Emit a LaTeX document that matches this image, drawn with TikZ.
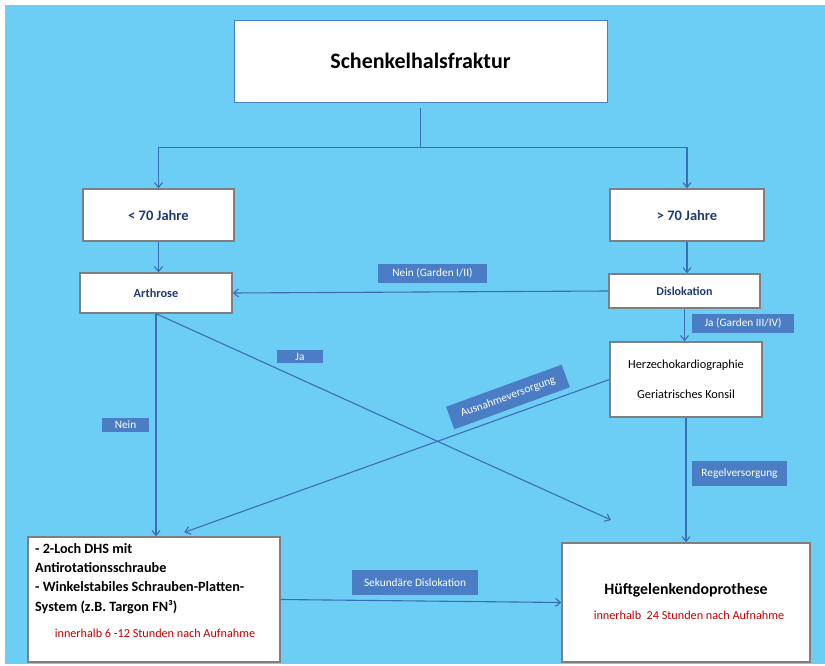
\documentclass[tikz,border=0pt]{standalone}
\usepackage{fontspec}
\setmainfont{Carlito}
\usetikzlibrary{arrows.meta,calc}
\definecolor{bg}{HTML}{6DCEF5}
\definecolor{lab}{HTML}{4A7DC4}
\definecolor{conn}{HTML}{3C6DB4}
\definecolor{dblue}{HTML}{1F3A70}
\definecolor{redtxt}{HTML}{C00000}
\definecolor{bord}{HTML}{7F7F7F}
\tikzset{
  box/.style={draw=bord, line width=1.3pt, fill=white, inner sep=0pt},
  lbl/.style={fill=lab, text=white, inner sep=0pt, font=\fontsize{11.3}{13}\selectfont},
  arr/.style={draw=conn, line width=1.1pt, -{Straight Barb[length=5pt,width=8pt]}},
  ln/.style={draw=conn, line width=1.1pt},
}
\begin{document}
\begin{tikzpicture}[x=1pt,y=-1pt]
\useasboundingbox (0,0) rectangle (825,666);
\fill[white] (0,0) rectangle (825,666);
\fill[bg] (5,5) rectangle (825,664);

% boxes
\node[box, draw=lab, line width=0.8pt, minimum width=373pt, minimum height=82pt, font=\fontsize{22}{26}\selectfont\bfseries] (title) at (420.5,61) {Schenkelhalsfraktur};
\node[box, minimum width=151pt, minimum height=52pt, text=dblue, font=\fontsize{14.5}{17}\selectfont\bfseries] (lt) at (158.5,215) {< 70 Jahre};
\node[box, minimum width=154pt, minimum height=52pt, text=dblue, font=\fontsize{14.5}{17}\selectfont\bfseries] (gt) at (687,215) {> 70 Jahre};
\node[box, minimum width=152pt, minimum height=40pt, text=dblue, font=\fontsize{12.3}{15}\selectfont\bfseries] (arth) at (156,293) {Arthrose};
\node[box, minimum width=151pt, minimum height=34pt, text=dblue, font=\fontsize{12}{15}\selectfont\bfseries] (disl) at (684.5,291) {Dislokation};
\node[box, minimum width=152pt, minimum height=75pt, align=center, font=\fontsize{12.3}{15}\selectfont] (herz) at (686,379.5) {Herzechokardiographie\\[15pt]Geriatrisches Konsil};
\node[box, minimum width=248pt, minimum height=119pt] (hueft) at (686,602.5) {};
\node[font=\fontsize{15.8}{19}\selectfont\bfseries, inner sep=0pt] (hueftt) at (686,590) {Hüftgelenkendoprothese};
\node[font=\fontsize{12.2}{15}\selectfont, text=redtxt, inner sep=0pt] (hueftr) at (689,615) {innerhalb\ \ 24 Stunden nach Aufnahme};
\node[box, minimum width=252pt, minimum height=125pt] (dhs) at (154,599.5) {};
\node[anchor=north west, align=left, inner sep=0pt, font=\fontsize{14.2}{19.4}\selectfont\bfseries] (dhst) at (35,543) {- 2-Loch DHS mit\\Antirotationsschraube\\- Winkelstabiles Schrauben-Platten-\\System (z.B. Targon FN³)};
\node[font=\fontsize{12.2}{15}\selectfont, text=redtxt, inner sep=0pt] (dhsr) at (155,633) {innerhalb 6 -12 Stunden nach Aufnahme};

% connectors
\draw[ln] ($(title.south)+(0,6)$) -- ++(0,39) coordinate (junc);
\draw[ln] (lt.north |- junc) -- (gt.north |- junc);
\draw[arr] (lt.north |- junc) -- (lt.north);
\draw[arr] (gt.north |- junc) -- (gt.north);
\draw[arr] (lt.south) -- (lt.south |- arth.north);
\draw[arr] (gt.south) -- (gt.south |- disl.north);
\draw[arr] (disl.west) -- (arth.east);
\draw[arr] (disl.south) -- (disl.south |- herz.north);
\draw[arr] (herz.south) -- (hueft.north);
\draw[arr] (arth.south) -- (arth.south |- dhs.north);
\coordinate (jaend) at (611,520);
\draw[arr] (arth.south) -- (jaend);
\draw[arr] (herz.west) -- ($(dhs.north west)+(157,-4)$);
\draw[arr] (dhs.east) -- (hueft.west);

% labels
\node[lbl, minimum width=109pt, minimum height=19pt] (l1) at (432.5,273.5) {Nein (Garden I/II)};
\node[lbl, minimum width=102pt, minimum height=19pt] (l2) at (743,323.5) {Ja (Garden III/IV)};
\node[lbl, minimum width=95pt, minimum height=25pt] (l3) at (739.5,473.5) {Regelversorgung};
\node[lbl, minimum width=46pt, minimum height=13pt] (l4) at (300,356.5) {Ja};
\node[lbl, minimum width=47pt, minimum height=14pt] (l5) at (125.5,425) {Nein};
\node[lbl, minimum width=126pt, minimum height=25pt] (l6) at (415,582.5) {Sekundäre Dislokation};
\node[lbl, minimum width=123pt, minimum height=24pt, rotate=20] (l7) at (508,397) {Ausnahmeversorgung};
\end{tikzpicture}
\end{document}
